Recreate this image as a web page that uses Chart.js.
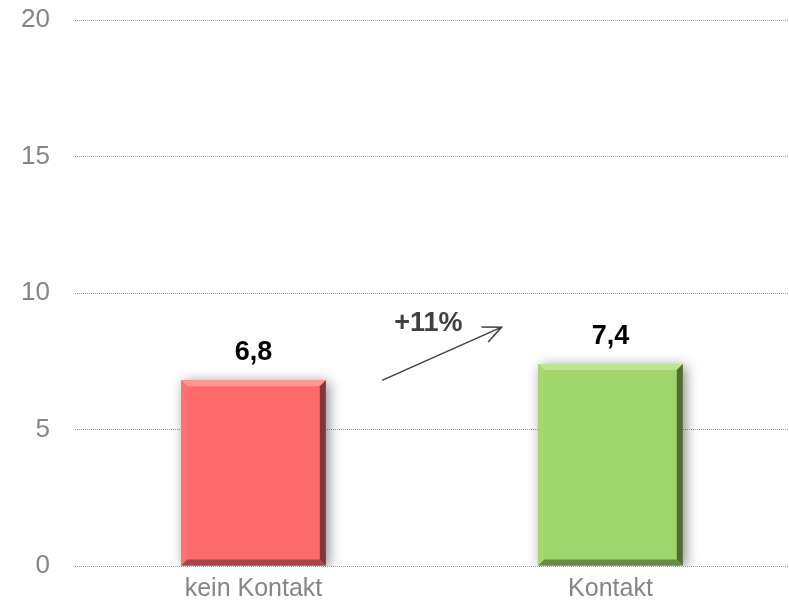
<!DOCTYPE html>
<html>
<head>
<meta charset="utf-8">
<script src="https://cdn.jsdelivr.net/npm/chart.js@4"></script>
<style>
  html, body { margin: 0; padding: 0; background: #fff; overflow: hidden; }
  #wrap { width: 789px; height: 604px; }
</style>
</head>
<body>
<div id="wrap"><canvas id="chart"></canvas></div>
<script>
// data
const categories = ["kein Kontakt", "Kontakt"];
const values = [6.8, 7.4];
const valueLabels = ["6,8", "7,4"];
const barColors = ["#ff6b6b", "#a0d56c"];
const yTicks = [0, 5, 10, 15, 20];
const changeLabel = "+11%";

const FONT = "'Liberation Sans', Arial, sans-serif";

// lighten (amt > 0) or darken (amt < 0) a hex colour
function shade(hex, amt) {
  const n = parseInt(hex.slice(1), 16);
  const r = (n >> 16) & 255, g = (n >> 8) & 255, b = n & 255;
  const f = c => Math.max(0, Math.min(255, Math.round(amt > 0 ? c + (255 - c) * amt : c * (1 + amt))));
  return `rgb(${f(r)},${f(g)},${f(b)})`;
}

const bevelPlugin = {
  id: "bevel",
  beforeDatasetsDraw(chart) {
    const ctx = chart.ctx;
    ctx.save();
    ctx.shadowColor = "rgba(0,0,0,0.45)";
    ctx.shadowBlur = 12;
    ctx.shadowOffsetX = 3;
    ctx.shadowOffsetY = 2;
  },
  afterDatasetsDraw(chart) {
    const ctx = chart.ctx;
    ctx.restore();
    const meta = chart.getDatasetMeta(0);
    const e = 6;
    meta.data.forEach((bar, i) => {
      const c = barColors[i];
      const l = bar.x - bar.width / 2, r = bar.x + bar.width / 2;
      const t = bar.y, b = bar.base;
      const quad = (pts, col) => {
        ctx.beginPath();
        ctx.moveTo(pts[0][0], pts[0][1]);
        pts.slice(1).forEach(p => ctx.lineTo(p[0], p[1]));
        ctx.closePath();
        ctx.fillStyle = col;
        ctx.fill();
      };
      ctx.save();
      quad([[l, t], [r, t], [r - e, t + e], [l + e, t + e]], shade(c, 0.3));
      quad([[l, t], [l + e, t + e], [l + e, b - e], [l, b]], shade(c, 0.05));
      quad([[r, t], [r, b], [r - e, b - e], [r - e, t + e]], shade(c, -0.5));
      quad([[l, b], [l + e, b - e], [r - e, b - e], [r, b]], shade(c, -0.35));
      // value labels
      ctx.fillStyle = "#000";
      ctx.font = "bold 27px " + FONT;
      ctx.textAlign = "center";
      ctx.textBaseline = "alphabetic";
      ctx.fillText(valueLabels[i], bar.x, t - 20);
      ctx.restore();
    });

    // change arrow between the bars
    const x = chart.scales.x, y = chart.scales.y;
    const x0 = x.getPixelForValue(0), x1 = x.getPixelForValue(1);
    const sx = x0 + (x1 - x0) * 0.36, sy = y.getPixelForValue(values[0]);
    const ex = x0 + (x1 - x0) * 0.695, ey = y.getPixelForValue(values[1] + 1.35);
    ctx.save();
    ctx.strokeStyle = "#404040";
    ctx.lineWidth = 1.5;
    ctx.beginPath();
    ctx.moveTo(sx, sy);
    ctx.lineTo(ex, ey);
    const ang = Math.atan2(ey - sy, ex - sx), h = 20;
    ctx.moveTo(ex - h * Math.cos(ang - 0.42), ey - h * Math.sin(ang - 0.42));
    ctx.lineTo(ex, ey);
    ctx.lineTo(ex - h * Math.cos(ang + 0.42), ey - h * Math.sin(ang + 0.42));
    ctx.stroke();
    ctx.fillStyle = "#404040";
    ctx.font = "bold 27px " + FONT;
    ctx.textAlign = "center";
    ctx.textBaseline = "alphabetic";
    ctx.fillText(changeLabel, x0 + (x1 - x0) * 0.49, y.getPixelForValue(values[1] + 1.2));
    ctx.restore();
  }
};

new Chart(document.getElementById("chart").getContext("2d"), {
  type: "bar",
  data: {
    labels: categories,
    datasets: [{
      data: values,
      backgroundColor: barColors,
      borderWidth: 0,
      barPercentage: 0.81,
      categoryPercentage: 0.5
    }]
  },
  options: {
    responsive: true,
    maintainAspectRatio: false,
    animation: false,
    layout: { padding: { top: 20, right: 0, left: 0, bottom: 0 } },
    plugins: { legend: { display: false }, tooltip: { enabled: false } },
    scales: {
      y: {
        min: 0, max: 20,
        afterBuildTicks: s => { s.ticks = yTicks.map(v => ({ value: v })); },
        afterFit: s => { s.width = 75; s.paddingTop = 0; s.paddingBottom = 0; },
        border: { display: false, dash: [1, 1] },
        grid: { color: "#999999", lineWidth: 1, drawTicks: false },
        ticks: { color: "#858585", font: { family: FONT, size: 26 }, padding: 25 }
      },
      x: {
        afterFit: s => { s.height = 38; s.paddingLeft = 0; s.paddingRight = 0; },
        border: { display: false },
        grid: { display: false },
        ticks: { color: "#858585", font: { family: FONT, size: 25 }, padding: 0 }
      }
    }
  },
  plugins: [bevelPlugin]
});
</script>
</body>
</html>
